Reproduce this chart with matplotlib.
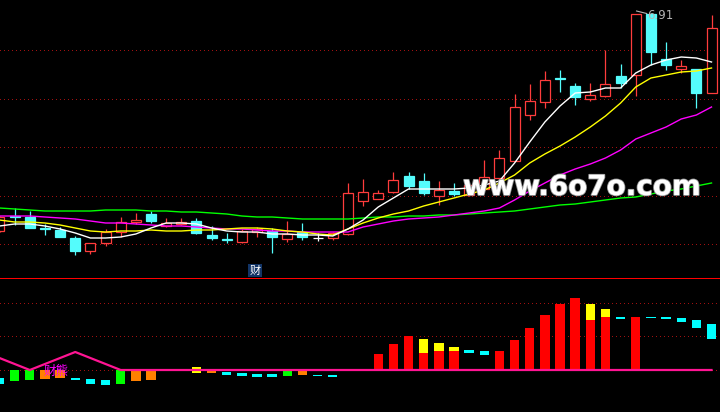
import matplotlib
matplotlib.use("Agg")
import matplotlib.pyplot as plt
import matplotlib.patheffects as pe
import numpy as np

# ---------------- data ----------------
opens  = [4.74,4.885,4.88,4.765,4.75,4.67,4.54,4.62,4.73,4.83,4.91,4.79,4.81,4.84,4.70,4.655,
          4.63,4.73,4.74,4.66,4.73,4.67,4.67,4.71,5.04,5.06,5.13,5.29,5.24,5.09,5.14,5.10,
          5.16,5.27,5.44,5.90,6.03,6.265,6.19,6.06,6.09,6.29,6.30,6.91,6.46,6.36,6.36,6.12]
highs  = [4.89,4.97,4.94,4.81,4.78,4.69,4.62,4.76,4.88,4.92,4.94,4.87,4.87,4.87,4.79,4.72,
          4.76,4.78,4.77,4.84,4.82,4.72,4.73,5.22,5.26,5.15,5.33,5.33,5.32,5.24,5.22,5.22,
          5.45,5.55,6.11,6.21,6.34,6.35,6.22,6.22,6.55,6.41,6.91,6.91,6.63,6.45,6.36,6.90]
lows   = [4.73,4.80,4.77,4.70,4.68,4.50,4.51,4.59,4.68,4.81,4.82,4.78,4.80,4.71,4.65,4.62,
          4.62,4.68,4.52,4.63,4.65,4.64,4.65,4.70,4.99,5.06,5.12,5.16,5.10,5.00,5.09,5.09,
          5.15,5.25,5.44,5.85,5.97,6.13,6.00,6.04,6.08,6.17,6.09,6.40,6.35,6.32,5.97,6.12]
closes = [4.88,4.88,4.77,4.76,4.68,4.54,4.62,4.73,4.83,4.85,4.84,4.82,4.83,4.72,4.67,4.65,
          4.74,4.76,4.68,4.71,4.68,4.67,4.72,5.12,5.13,5.12,5.25,5.19,5.12,5.15,5.11,5.20,
          5.28,5.47,5.98,6.04,6.25,6.26,6.08,6.10,6.21,6.22,6.91,6.53,6.40,6.39,6.12,6.77]

ma5  = [4.79,4.81,4.81,4.79,4.76,4.72,4.67,4.67,4.68,4.71,4.77,4.82,4.82,4.81,4.77,4.74,
        4.73,4.73,4.71,4.71,4.70,4.70,4.69,4.76,4.85,4.98,5.07,5.16,5.16,5.16,5.16,5.17,
        5.20,5.24,5.42,5.63,5.83,5.99,6.12,6.13,6.17,6.17,6.32,6.40,6.45,6.48,6.47,6.43]
ma10 = [4.85,4.83,4.83,4.82,4.80,4.77,4.74,4.73,4.74,4.74,4.75,4.74,4.74,4.75,4.75,4.76,
        4.77,4.77,4.76,4.74,4.73,4.71,4.70,4.76,4.82,4.87,4.91,4.94,4.99,5.03,5.07,5.11,
        5.15,5.22,5.30,5.42,5.51,5.59,5.68,5.78,5.89,6.02,6.18,6.27,6.30,6.33,6.34,6.37]
ma20 = [4.89,4.89,4.89,4.88,4.87,4.86,4.84,4.82,4.82,4.81,4.80,4.79,4.79,4.78,4.77,4.76,
        4.76,4.75,4.74,4.74,4.73,4.73,4.73,4.73,4.78,4.81,4.84,4.86,4.87,4.88,4.90,4.92,
        4.94,4.97,5.05,5.14,5.22,5.30,5.36,5.41,5.47,5.55,5.66,5.72,5.78,5.86,5.90,5.98]
ma60 = [4.97,4.96,4.95,4.94,4.94,4.94,4.94,4.95,4.95,4.95,4.94,4.94,4.93,4.93,4.92,4.91,
        4.89,4.88,4.88,4.87,4.86,4.86,4.86,4.86,4.87,4.88,4.88,4.89,4.89,4.90,4.90,4.91,
        4.92,4.93,4.94,4.96,4.98,5.00,5.01,5.03,5.05,5.07,5.08,5.11,5.14,5.16,5.19,5.22]

price_grid = [6.55, 6.06, 5.58, 5.09, 4.61]
high_label = "6.91"
fin_label = "财"

# lower indicator panel
red_idx = [25,26,27,28,29,30,33,34,35,36,37,38,39,40,42]
red_val = [1.6,2.6,3.4,1.7,1.9,1.9,1.9,3.0,4.2,5.5,6.6,7.2,5.0,5.3,5.3]
yel_idx = [13,28,29,30,39,40]
yel_lo  = [-0.3,1.7,1.9,1.9,5.0,5.3]
yel_hi  = [0.3,3.1,2.7,2.3,6.6,6.1]
grn_idx = [1,2,8,19]
grn_val = [-1.1,-1.0,-1.4,-0.6]
org_idx = [3,4,9,10,14,20]
org_val = [-0.9,-0.8,-1.1,-1.0,-0.3,-0.5]
cyn_idx = [0,5,6,7,15,16,17,18,21,22,31,32,41,43,44,45,46,47]
cyn_lo  = [-1.4,-1.0,-1.4,-1.5,-0.5,-0.6,-0.7,-0.7,-0.6,-0.7,1.7,1.5,5.1,5.2,5.1,4.8,4.2,3.1]
cyn_hi  = [-0.8,-0.8,-0.9,-1.0,-0.2,-0.3,-0.4,-0.4,-0.5,-0.5,2.0,1.9,5.3,5.3,5.3,5.2,5.0,4.6]
wave    = [1.2,0.6,0.0,0.6,1.2,1.8,1.2,0.6] + [0.0]*40
ind_grid = [6.7, 3.4, 0.0]
ind_label = "财熊"
watermark = "www.6o7o.com"

# ---------------- style ----------------
BG = "#000000"
RED = "#ff3c3c"
CYAN = "#54fcfc"
GRIDC = "#a01010"
plt.rcParams['font.family'] = ['Noto Sans CJK SC', 'DejaVu Sans']

fig = plt.figure(figsize=(7.2, 4.12), dpi=100, facecolor=BG)
H = 412.0
ax = fig.add_axes([0, (H-278)/H, 1, 278/H], facecolor=BG)
ax2 = fig.add_axes([0, 0, 1, (H-278)/H], facecolor=BG)
for a in (ax, ax2):
    a.set_xlim(0.033, 47.56)
    a.set_xticks([]); a.set_yticks([])
    for s in a.spines.values():
        s.set_visible(False)
ax.set_ylim(4.27, 7.05)
ax2.set_ylim(-4.2, 9.2)

n = len(closes)
x = np.arange(n)

# grid (dotted dark red)
for g in price_grid:
    ax.axhline(g, color=GRIDC, lw=0.72, ls=(0, (1, 3)), antialiased=False, zorder=0)
for g in ind_grid:
    ax2.axhline(g, color=GRIDC, lw=0.72, ls=(0, (1, 3)), antialiased=False, zorder=0)

# candles
w = 0.66
for i in range(n):
    o, h, l, c = opens[i], highs[i], lows[i], closes[i]
    if c > o:
        col, face = RED, BG
    elif c < o:
        col, face = CYAN, CYAN
    else:
        col, face = "#ffffff", "#ffffff"
    ax.vlines(x[i], l, h, color=col, lw=0.9, zorder=2)
    bot = min(o, c)
    hgt = max(abs(c - o), 0.001)
    ax.bar(x[i], hgt, bottom=bot, width=w, facecolor=face, edgecolor=col,
           linewidth=0.9, zorder=3)

# watermark
wm = fig.text(463/720, (H-195)/H, watermark, color="white", fontsize=24,
              family="DejaVu Sans", fontweight="bold", ha="left", va="baseline", zorder=4,
              path_effects=[pe.withStroke(linewidth=1.2, foreground="#9a9a9a")])
fig.canvas.draw()
bb = wm.get_window_extent()
wm.set_fontsize(24 * 238.0 / bb.width)

# moving averages
ax.plot(x, ma60, color="#00ff00", lw=1.0, zorder=5)
ax.plot(x, ma20, color="#ff00ff", lw=1.0, zorder=5)
ax.plot(x, ma10, color="#ffff00", lw=1.0, zorder=5)
ax.plot(x, ma5, color="#ffffff", lw=1.0, zorder=5)

# high label
ax.plot([42.05, 42.72], [6.94, 6.915], color="#b4b4b4", lw=0.8, zorder=6)
ax.text(42.78, 6.895, high_label, color="#b4b4b4", fontsize=8.5, family="DejaVu Sans",
        ha="left", va="center", zorder=6)

# financial marker
ax.text(16.86, 4.345, fin_label, color="white", fontsize=8, ha="center", va="center",
        bbox=dict(boxstyle="square,pad=0.12", facecolor="#123466", edgecolor="none"), zorder=6)

# separator between panels: one pixel row at the top of the lower panel
ax2.axhspan(9.1, 9.2, color="#ff0000", lw=0, zorder=10)

# lower panel bars
bw = 0.62
ax2.bar(red_idx, red_val, width=bw, color="#ff0000", zorder=2)
ax2.bar(yel_idx, np.array(yel_hi) - np.array(yel_lo), bottom=yel_lo, width=bw, color="#ffff00", zorder=2)
ax2.bar(grn_idx, grn_val, width=bw, color="#00ff00", zorder=2)
ax2.bar(org_idx, org_val, width=bw, color="#ff8000", zorder=2)
ax2.bar(cyn_idx, np.array(cyn_hi) - np.array(cyn_lo), bottom=cyn_lo, width=bw, color="#00ffff", zorder=2)
ax2.plot(x, wave, color="#ff1493", lw=1.6, zorder=3)
ax2.text(3.7, -0.15, ind_label, color="#ff00ff", fontsize=9, ha="center", va="center", zorder=4)

fig.savefig("out.png", dpi=100, facecolor=BG)
